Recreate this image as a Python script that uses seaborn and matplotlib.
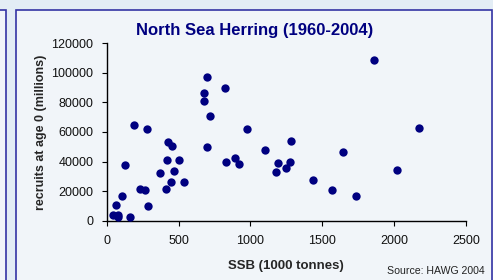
import numpy as np
import pandas as pd
import matplotlib
matplotlib.use("Agg")
import matplotlib.pyplot as plt
from matplotlib.patches import Rectangle
import seaborn as sns

# =====================================================
# 1. Data: North Sea herring stock / recruitment
# =====================================================
ssb = [698, 823, 675, 675, 719, 192, 278, 977, 1860, 2174,
       429, 457, 698, 830, 127, 422, 505, 373, 468, 450,
       540, 232, 264, 411, 106, 63, 287, 42, 79, 81,
       160, 1283, 1102, 1643, 895, 919, 1190, 1276, 1178, 1246,
       1436, 1570, 1735, 2020]
recruits = [97300, 89500, 86100, 80700, 70500, 64400, 61800, 62000, 108600, 62600,
            53000, 50300, 50000, 39700, 37600, 40800, 41000, 32000, 33400, 26400,
            26400, 21400, 20700, 21200, 16500, 10400, 9700, 4100, 4100, 2300,
            2500, 53900, 47600, 46200, 42200, 38300, 39000, 39900, 33100, 35400,
            27500, 20700, 16900, 34500]

x_ticks = [0, 500, 1000, 1500, 2000, 2500]
y_ticks = [0, 20000, 40000, 60000, 80000, 100000, 120000]

df = pd.DataFrame({"ssb": ssb, "recruits": recruits})

# =====================================================
# 2. Style
# =====================================================
sns.set_style("ticks")
plt.rcParams["font.family"] = ["Liberation Sans", "DejaVu Sans"]

NAVY = "#000080"
PANEL = "#f1f5f9"
BORDER = "#3434a4"

fig = plt.figure(figsize=(4.93, 2.80), dpi=100)
fig.patch.set_facecolor("#e3edf5")

# slide panels behind the chart
fig.patches.append(Rectangle((-0.1, -0.1), 0.1 + 6 / 493, 0.1 + 270 / 280,
                             transform=fig.transFigure, facecolor=PANEL,
                             edgecolor=BORDER, lw=1.2, zorder=-2))
fig.patches.append(Rectangle((16 / 493, -0.1), 476 / 493, 0.1 + 270 / 280,
                             transform=fig.transFigure, facecolor=PANEL,
                             edgecolor=BORDER, lw=1.2, zorder=-2))

ax = fig.add_axes([106.7 / 493, 59.3 / 280, 359.3 / 493, 177.4 / 280])
ax.patch.set_alpha(0)

# =====================================================
# 3. Scatter
# =====================================================
sns.scatterplot(data=df, x="ssb", y="recruits", ax=ax, color=NAVY,
                s=36, edgecolor=NAVY, linewidth=0, legend=False, zorder=3)

ax.set_xlim(0, 2500)
ax.set_ylim(0, 120000)
ax.set_xticks(x_ticks)
ax.set_yticks(y_ticks)
ax.set_xticklabels([str(t) for t in x_ticks], fontsize=9)
ax.set_yticklabels([str(t) for t in y_ticks], fontsize=9)
ax.tick_params(axis="both", direction="out", length=3.5, width=0.8,
               color="black", labelcolor="#111111")
ax.tick_params(axis="x", pad=7)
ax.tick_params(axis="y", pad=6)

sns.despine(ax=ax)
for side in ["left", "bottom"]:
    ax.spines[side].set_color("black")
    ax.spines[side].set_linewidth(1.0)

ax.set_xlabel("SSB (1000 tonnes)", fontsize=9.5, fontweight="bold", labelpad=9)
ax.set_ylabel("recruits at age 0 (millions)", fontsize=9, fontweight="bold", labelpad=3)

fig.text(254.5 / 493, 1 - 30 / 280, "North Sea Herring (1960-2004)",
         ha="center", va="center", fontsize=12, fontweight="bold", color=NAVY)
fig.text(485 / 493, 1 - 271 / 280, "Source: HAWG 2004",
         ha="right", va="center", fontsize=7.6, color="#222222")

# =====================================================
# 4. Save
# =====================================================
fig.savefig("out.png", dpi=100, facecolor=fig.get_facecolor())
print("saved out.png")
